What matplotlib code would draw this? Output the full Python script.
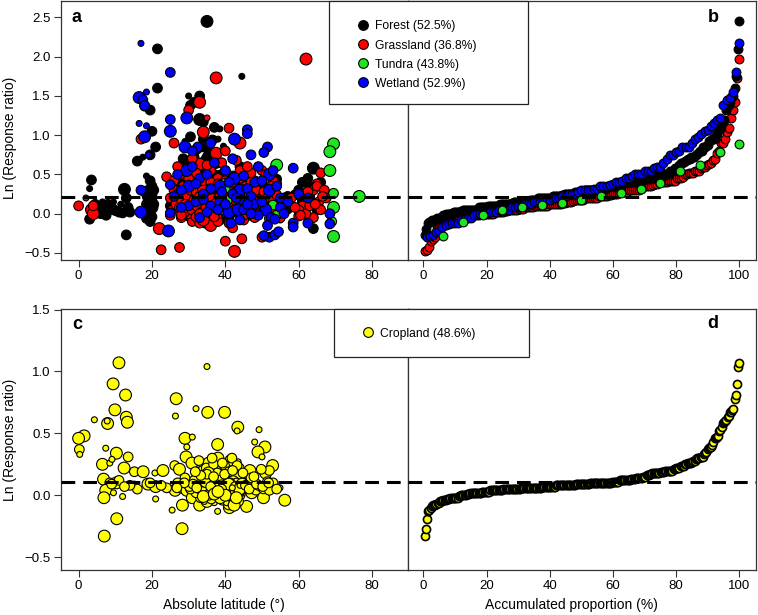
import numpy as np
import matplotlib
matplotlib.use("Agg")
import matplotlib.pyplot as plt
from matplotlib.patches import Rectangle
from matplotlib.lines import Line2D

plt.rcParams["font.family"] = ["Liberation Sans", "DejaVu Sans"]

# ---- data: (absolute latitude, ln response ratio, weight class) ----
forest_lat = [3.5, 3.0, 3.0, 4.5, 5.0, 6.0, 6.5, 7.0, 7.5, 8.0,
              8.5, 9.0, 10.0, 11.0, 12.0, 12.5, 13.0, 13.5, 13.0, 14.0,
              11.5, 9.5, 16.0, 17.5, 19.5, 18.5, 19.5, 20.0, 18.0, 19.0,
              19.5, 20.0, 19.0, 20.0, 19.5, 18.5, 20.5, 19.5, 20.0, 21.0,
              21.5, 21.5, 18.0, 35.0, 44.5, 30.0, 33.0, 31.5, 30.5, 33.0,
              34.0, 37.0, 38.0, 29.0, 35.5, 35.0, 31.0, 34.0, 29.0, 32.0,
              37.0, 39.0, 30.0, 36.0, 33.0, 41.0, 45.0, 50.0, 55.0, 62.5,
              64.0, 64.0, 33.5, 31.0, 28.0, 36.0, 32.0, 38.0, 30.0, 34.0,
              26.0, 27.0, 28.0, 29.0, 30.0, 31.0, 32.0, 33.0, 34.0, 35.0,
              36.0, 37.0, 38.0, 39.0, 40.0, 41.0, 42.0, 43.0, 44.0, 45.0,
              46.0, 47.0, 48.0, 49.0, 51.0, 52.0, 53.0, 54.0, 56.0, 58.0,
              60.0, 62.0, 63.0, 65.0, 66.0, 27.5, 29.5, 31.5, 33.5, 35.5,
              37.5, 39.5, 41.5, 43.5, 30.5, 34.5, 38.5, 42.5, 46.5, 50.5,
              26.5, 28.5, 30.5, 32.5, 34.5, 36.5, 38.5, 40.5, 42.5, 44.5,
              46.0, 48.0, 50.0, 52.0, 54.0, 27.0, 29.0, 31.0, 33.0, 35.0,
              37.0, 39.0, 41.0, 43.0, 45.0, 47.0, 49.0, 53.0, 57.0, 61.0,
              30.5, 33.5, 36.5, 38.5, 29.5, 31.5, 32.5, 34.5, 35.5, 37.5,
              39.5, 28.5, 30.0, 32.0, 34.0, 36.0, 38.0, 40.0, 42.0, 44.0,
              46.0, 48.0, 19.0, 19.5, 20.0, 18.5, 20.5, 19.0, 19.5, 20.0,
              25.0, 27.0, 29.0, 31.0, 33.0, 35.0, 37.0, 39.0, 41.0, 43.0,
              45.0, 47.0, 49.0, 51.0, 53.0, 55.0, 57.0, 59.0, 61.0, 63.0]
forest_lnrr = [0.43, 0.32, -0.07, 0.12, 0.05, 0.0, 0.15, 0.08, -0.02, 0.12,
               0.05, 0.08, 0.04, 0.02, 0.01, 0.31, 0.2, 0.08, -0.27, 0.02,
               0.12, 0.15, 0.67, 0.72, 0.75, 0.48, 0.42, 0.35, 0.28, 0.22,
               0.15, 0.08, 0.02, -0.04, -0.1, 0.12, 0.3, 1.32, 1.05, 0.85,
               1.6, 2.1, 1.37, 2.45, 1.75, 1.5, 1.5, 1.42, 1.38, 1.2,
               1.17, 1.1, 0.95, 0.92, 0.8, 0.72, 0.62, 0.55, 0.55, 0.45,
               0.4, 0.5, 0.3, 0.1, -0.1, -0.05, 0.05, 0.2, -0.08, 0.45,
               0.58, -0.19, 0.85, 0.25, 0.4, 0.88, 0.78, 0.65, 0.7, 0.95,
               0.1, 0.2, 0.05, 0.15, 0.0, 0.1, 0.2, 0.05, 0.15, 0.3,
               0.25, 0.05, 0.18, 0.1, 0.3, 0.22, 0.12, 0.35, 0.15, 0.25,
               0.1, 0.32, 0.2, 0.05, 0.15, 0.28, 0.12, 0.38, 0.2, 0.1,
               0.3, 0.15, 0.22, 0.05, 0.4, 0.35, 0.42, 0.48, 0.38, 0.45,
               0.28, 0.35, 0.42, 0.48, -0.05, -0.12, -0.08, 0.02, -0.02, 0.08,
               0.18, 0.32, 0.25, 0.42, 0.35, 0.2, 0.45, 0.28, 0.38, 0.22,
               0.48, 0.3, 0.4, 0.16, 0.44, 0.36, 0.24, 0.46, 0.3, 0.18,
               0.5, 0.26, 0.34, 0.2, 0.44, 0.28, 0.38, 0.32, 0.22, 0.4,
               0.98, 1.02, 0.94, 1.08, 0.66, 0.72, 0.8, 0.68, 0.76, 0.64,
               0.86, 0.7, 0.42, 0.52, 0.46, 0.58, 0.44, 0.55, 0.48, 0.6,
               0.5, 0.42, 0.05, 0.18, 0.25, -0.06, 0.12, 0.3, 0.0, 0.2,
               0.1, 0.22, 0.0, 0.15, 0.28, 0.05, 0.18, 0.32, 0.08, 0.25,
               0.12, 0.02, 0.3, 0.1, 0.2, 0.14, 0.06, 0.24, 0.16, 0.34]
forest_w = [2, 1, 2, 2, 2, 2, 1, 2, 2, 2,
            2, 2, 2, 2, 2, 3, 2, 2, 2, 2,
            1, 1, 2, 1, 2, 1, 2, 2, 2, 3,
            3, 3, 3, 2, 2, 2, 2, 2, 2, 2,
            2, 2, 2, 3, 1, 1, 2, 2, 2, 3,
            2, 2, 1, 1, 2, 2, 2, 2, 2, 2,
            2, 2, 2, 2, 2, 2, 2, 2, 1, 2,
            3, 2, 2, 1, 1, 1, 1, 2, 1, 2,
            2, 2, 2, 2, 2, 2, 2, 2, 2, 2,
            2, 2, 2, 2, 2, 2, 2, 2, 2, 2,
            2, 2, 2, 2, 2, 2, 2, 2, 2, 2,
            2, 2, 2, 2, 2, 2, 2, 2, 2, 2,
            2, 2, 2, 2, 2, 2, 2, 2, 2, 2,
            2, 2, 2, 2, 2, 2, 2, 2, 2, 2,
            2, 2, 2, 2, 2, 2, 2, 2, 2, 2,
            2, 2, 2, 2, 2, 2, 2, 2, 2, 2,
            2, 1, 2, 1, 2, 2, 1, 2, 2, 2,
            1, 2, 2, 2, 2, 2, 2, 2, 2, 2,
            2, 2, 2, 2, 2, 2, 2, 2, 2, 2,
            2, 2, 2, 2, 2, 2, 2, 2, 2, 2,
            2, 2, 2, 2, 2, 2, 2, 2, 2, 2]

grass_lat = [62, 37.5, 33, 35, 30, 34, 41, 17, 44, 26,
             37.5, 40, 33, 36, 29.5, 38, 28, 24, 44, 47,
             50, 48, 53, 66, 65, 31, 32,
             22.5, 27.5, 42.5, 40, 44.5, 22, 50, 31, 28, 33,
             36, 38, 42, 45, 48, 35, 30, 41, 34, 55,
             60, 64,
             0, 2, 3.5, 4, 4,
             61, 62, 63, 64, 65, 67, 65.5, 66, 60, 61.5,
             58, 60.5, 67.5, 63, 64.5, 66.5, 62.5, 59,
             25, 25.5, 26, 26.5, 27, 27.5, 28, 28.5, 29, 29.5,
             30, 30.5, 31, 31.5, 32, 32.5, 33, 33.5, 34, 34.5,
             35, 35.5, 36, 36.5, 37, 37.5, 38, 38.5, 39, 39.5,
             40, 40.5, 41, 41.5, 42, 42.5, 43, 43.5, 44, 44.5,
             45, 45.5, 46, 46.5, 47, 47.5, 48, 48.5, 49, 49.5,
             50, 50.5, 51, 51.5, 52, 52.5, 53, 53.5, 54, 55,
             26, 28, 30, 32, 34, 36, 38, 40, 42, 44,
             27, 31, 35, 39, 43, 46, 29, 33, 37, 41,
             45, 49, 25, 52, 47, 51]
grass_lnrr = [1.97, 1.73, 1.42, 1.22, 1.32, 1.04, 1.09, 0.95, 0.9, 0.9,
              0.77, 0.8, 0.63, 0.55, 0.58, 0.45, 0.5, 0.47, 0.55, 0.52,
              0.55, 0.4, 0.42, 0.52, 0.38, 0.4, 0.52,
              -0.46, -0.43, -0.48, -0.35, -0.32, -0.19, -0.3, -0.1, -0.05, -0.12,
              -0.15, -0.1, -0.18, -0.08, -0.05, -0.02, 0.0, -0.12, -0.08, -0.05,
              -0.03, -0.05,
              0.1, 0.2, 0.05, 0.0, 0.1,
              0.1, 0.0, 0.2, 0.3, 0.35, 0.3, 0.15, 0.05, 0.05, 0.25,
              0.2, -0.02, 0.2, 0.1, 0.12, 0.22, 0.28, 0.08,
              0.2, 0.05, 0.3, 0.12, 0.25, 0.08, 0.18, 0.35, 0.02, 0.22,
              0.12, 0.3, 0.06, 0.18, 0.28, 0.1, 0.22, 0.02, 0.32, 0.14,
              0.08, 0.26, 0.04, 0.18, 0.34, 0.12, 0.0, 0.22, 0.06, 0.28,
              0.15, 0.02, 0.36, 0.1, 0.24, 0.05, 0.18, 0.3, 0.08, 0.2,
              0.12, 0.35, 0.02, 0.25, 0.15, 0.06, 0.22, 0.3, 0.1, 0.18,
              0.04, 0.28, 0.14, 0.2, 0.08, 0.35, 0.16, 0.02, 0.24, 0.12,
              0.42, -0.02, 0.45, -0.04, 0.42, 0.4, 0.38, 0.42, 0.4, 0.45,
              0.6, 0.7, 0.62, 0.65, 0.68, 0.6, 0.12, 0.0, -0.04, 0.0,
              -0.02, 0.0, -0.02, -0.06, 0.4, 0.5]
grass_w = [3, 3, 3, 1, 2, 3, 2, 2, 3, 2,
           3, 2, 3, 2, 2, 2, 2, 2, 2, 2,
           2, 2, 2, 2, 2, 2, 2,
           2, 2, 3, 2, 2, 3, 2, 2, 2, 2,
           3, 2, 2, 2, 2, 2, 2, 2, 3, 2,
           2, 2,
           2, 1, 3, 3, 2,
           2, 2, 2, 2, 2, 2, 2, 2, 2, 2,
           2, 2, 2, 2, 2, 2, 2, 2,
           2, 2, 2, 2, 2, 2, 2, 2, 2, 2,
           2, 2, 3, 2, 2, 3, 2, 2, 3, 2,
           3, 2, 2, 3, 2, 3, 2, 2, 3, 2,
           3, 2, 2, 3, 2, 2, 3, 2, 2, 3,
           2, 2, 2, 2, 2, 2, 2, 2, 2, 2,
           2, 2, 2, 2, 2, 2, 2, 2, 2, 2,
           2, 2, 2, 2, 2, 2, 2, 2, 2, 2,
           2, 2, 2, 2, 2, 2, 2, 2, 2, 2,
           2, 2, 2, 2, 2, 2]

tundra_lat = [69.5, 68.5, 54, 68.5, 40, 40, 69.5, 76.5, 40.5, 44,
              53, 69.5, 39.5, 54, 69, 69.5]
tundra_lnrr = [0.89, 0.79, 0.62, 0.55, 0.39, 0.32, 0.26, 0.22, 0.17, 0.13,
               0.11, 0.08, 0.05, -0.02, -0.10, -0.29]
tundra_w = [3, 3, 3, 3, 2, 2, 2, 3, 2, 2,
            2, 3, 2, 2, 2, 3]

wet_lat = [17, 25, 16.5, 17.5, 18.5, 18, 29.5, 25, 16.5, 18.5,
           25, 46, 46, 18, 42.5, 29, 32.5, 51.5, 50.5, 19,
           47, 42, 31, 36,
           58.5, 52, 29.5, 30, 38.5, 42.5, 44, 46, 48, 52,
           55, 17, 25, 42, 38.5, 62.5, 33, 35, 40, 45,
           49, 53, 37, 31, 27, 50, 47, 44, 41, 39,
           36, 34, 32, 28, 26, 54, 57, 60, 48, 43,
           17, 25, 24.5, 41, 43.5, 45, 51, 52.5, 53.5, 51.5,
           52, 53.5, 54.5, 50.5, 58.5, 58.5, 62.5, 68.5, 68.5, 41.5,
           33, 36, 38, 30, 35, 46, 49, 55, 40, 44,
           32, 28, 47, 50, 56, 34]
wet_lnrr = [2.17, 1.8, 1.48, 1.45, 1.55, 1.38, 1.22, 1.2, 1.15, 1.12,
            1.05, 1.07, 1.02, 0.98, 0.95, 0.85, 0.85, 0.85, 0.78, 0.75,
            0.75, 0.7, 0.8, 0.9,
            0.58, 0.5, 0.55, 0.35, 0.35, 0.45, 0.3, 0.32, 0.4, 0.3,
            0.2, 0.3, 0.37, 0.25, 0.15, 0.2, 0.45, 0.5, 0.55, 0.48,
            0.6, 0.55, 0.65, 0.6, 0.5, 0.42, 0.22, 0.18, 0.4, 0.28,
            0.32, 0.25, 0.38, 0.3, 0.22, 0.35, 0.15, 0.25, 0.12, 0.2,
            0.02, 0.01, -0.22, 0.02, 0.05, 0.05, 0.05, -0.05, -0.07, -0.15,
            -0.3, -0.27, -0.23, -0.28, -0.12, -0.17, -0.12, 0.0, -0.13, -0.12,
            -0.05, 0.1, 0.05, 0.1, 0.02, 0.12, -0.02, 0.08, 0.12, -0.08,
            0.15, 0.08, 0.0, 0.15, 0.0, 0.18]
wet_w = [1, 2, 3, 2, 1, 2, 3, 2, 1, 1,
         3, 2, 2, 3, 3, 3, 2, 2, 2, 1,
         2, 2, 2, 2,
         2, 3, 3, 3, 3, 3, 3, 2, 2, 3,
         2, 2, 2, 2, 2, 2, 2, 2, 2, 2,
         2, 2, 2, 2, 2, 2, 2, 2, 2, 2,
         2, 2, 2, 2, 2, 2, 2, 2, 2, 2,
         3, 2, 3, 3, 3, 2, 3, 2, 2, 2,
         2, 2, 2, 2, 2, 2, 2, 2, 2, 2,
         2, 2, 2, 2, 2, 2, 2, 2, 2, 2,
         2, 2, 2, 2, 2, 2]

crop_lat = [11, 35, 9.4, 12.8, 26.6, 9.9, 32, 35.2, 39.8, 26.4,
            13, 13.3, 4.3, 7.9, 7.8, 43.4, 43.2, 49.2, 1.5, 0,
            29, 31, 48,
            37.9, 50.8, 48.9, 0.2, 0.3, 10.3, 13.5, 29.5, 29.3, 38,
            41.5, 43.5, 50, 6.5, 8.5, 12.4, 26.2, 27.5, 30.9, 32.5,
            35.5, 37, 39, 52.9, 51, 52, 15.2, 17.6, 20.8, 23,
            46.7, 7.4, 9.1,
            6.8, 10.3, 18.9, 21, 15.2, 8.5, 7.4, 9.5, 6.9, 12,
            21, 26.3, 28.5, 29.5, 31, 33, 33.5, 28.3, 25.5, 35,
            37, 37.9, 36, 38, 40, 41, 41.1, 42, 43, 43,
            41, 45.8, 47.2, 48.4, 50.4, 50.5, 51.5, 53, 54.9, 56.2,
            28.2, 10.4, 7,
            33, 33.5, 34, 34.5, 35, 35.5, 36, 36.5, 37, 37.5,
            38, 38.5, 39, 39.5, 40, 40.5, 41, 41.5, 42, 42.5,
            43, 43.5, 44, 33.2, 34.2, 35.2, 36.2, 37.2, 38.2, 39.2,
            40.2, 41.2, 42.2, 43.2, 44.2, 33.8, 34.8, 35.8, 36.8, 37.8,
            38.8, 39.8, 40.8, 41.8, 42.8, 43.8, 34.3, 36.3, 38.3, 40.3,
            42.3, 44.3, 35.6, 37.6, 39.6, 41.6, 43.6, 33.4, 36.6, 39.4,
            42.6, 44.4, 34.6, 38.6, 41.4, 43.4, 35.4, 40.6, 37.4, 42.4,
            30, 31.5, 32, 29, 30.5, 45, 46, 47, 49, 52,
            27, 24, 16, 11, 14, 32.8, 36.4, 39.2, 41.8, 43.2,
            33.1, 33.7, 34.1, 34.9, 35.3, 35.9, 36.1, 36.7, 37.1, 37.7,
            38.1, 38.7, 39.1, 39.7, 40.1, 40.7, 41.1, 41.7, 42.1, 42.7,
            43.1, 43.7, 44.1, 33.6, 34.4, 35.1, 35.7, 36.9, 37.3, 38.4,
            39.3, 40.4, 41.3, 42.9, 43.3, 44.6, 33.9, 34.7, 36.5, 37.9,
            39.9, 40.9, 42.7, 43.9, 35.2, 38.9, 41.9, 44.0, 36.0, 39.0,
            30.2, 31.2, 32.2, 28.8, 45.5, 46.5, 48.5, 50.2, 51.8, 54.0,
            26.8, 22.5, 19.5, 12.5, 9.0, 34.0, 37.0, 40.0, 43.0, 38.0,
            35.0, 41.0, 36.8, 39.8, 42.0, 33.3, 44.8, 31.8, 47.8, 49.8]
crop_lnrr = [1.07, 1.04, 0.9, 0.81, 0.78, 0.69, 0.7, 0.67, 0.67, 0.64,
             0.63, 0.59, 0.61, 0.58, 0.6, 0.55, 0.52, 0.53, 0.48, 0.46,
             0.46, 0.47, 0.43,
             0.41, 0.39, 0.35, 0.37, 0.33, 0.34, 0.31, 0.39, 0.31, 0.3,
             0.28, 0.27, 0.31, 0.25, 0.26, 0.22, 0.24, 0.21, 0.26, 0.18,
             0.26, 0.22, 0.2, 0.24, 0.18, 0.2, 0.19, 0.19, 0.18, 0.2,
             0.2, 0.38, 0.29,
             0.13, 0.1, 0.09, 0.07, 0.09, 0.1, 0.04, 0.02, -0.02, -0.01,
             -0.03, 0.04, 0.06, 0.04, -0.02, -0.08, 0.05, -0.08, -0.12, -0.05,
             -0.06, -0.13, 0.01, 0.0, 0.05, -0.03, -0.1, 0.11, 0.02, -0.04,
             -0.07, -0.09, 0.02, 0.05, -0.02, 0.06, 0.11, 0.1, 0.06, -0.04,
             -0.27, -0.19, -0.33,
             0.1, 0.14, 0.02, 0.08, 0.12, 0.04, 0.16, 0.06, 0.1, 0.0,
             0.08, 0.14, 0.03, 0.1, 0.18, 0.06, 0.12, 0.02, 0.08, 0.15,
             0.05, 0.1, 0.0, -0.02, 0.06, 0.1, -0.03, 0.13, 0.04, -0.04,
             0.09, 0.16, -0.02, 0.07, 0.12, 0.2, 0.22, 0.14, 0.25, 0.18,
             0.07, 0.24, 0.02, 0.2, 0.1, 0.22, -0.05, 0.05, 0.12, -0.06,
             0.04, 0.08, 0.0, 0.08, 0.13, 0.05, -0.05, 0.06, 0.11, 0.01,
             0.13, 0.03, 0.12, -0.02, 0.08, 0.14, 0.18, 0.12, 0.04, -0.08,
             0.08, 0.12, 0.02, 0.14, 0.05, 0.06, 0.1, 0.14, 0.08, 0.04,
             0.1, 0.06, 0.05, 0.12, 0.08, 0.28, 0.3, 0.26, 0.3, 0.24,
             0.06, 0.09, 0.11, 0.03, 0.07, 0.12, 0.08, 0.02, 0.05, 0.1,
             0.06, 0.09, 0.12, 0.04, 0.08, 0.1, 0.03, 0.07, 0.11, 0.06,
             0.09, 0.02, 0.05, 0.08, 0.1, 0.06, 0.03, 0.07, 0.09, 0.05,
             0.06, 0.08, 0.1, 0.04, 0.07, 0.09, 0.03, 0.11, 0.08, 0.06,
             0.04, 0.09, 0.07, 0.05, 0.02, 0.1, 0.06, 0.08, 0.07, 0.05,
             0.07, 0.09, 0.06, 0.1, 0.08, 0.05, 0.09, 0.07, 0.1, 0.05,
             0.06, 0.08, 0.1, 0.07, 0.09, -0.01, 0.01, 0.0, -0.02, 0.03,
             0.17, 0.19, 0.15, 0.17, 0.2, 0.16, 0.18, 0.19, 0.15, 0.21]
crop_w = [3, 1, 3, 3, 3, 3, 1, 3, 3, 1,
          3, 3, 1, 3, 1, 3, 1, 1, 3, 3,
          3, 1, 1,
          3, 3, 3, 2, 1, 3, 2, 1, 3, 3,
          3, 1, 1, 3, 1, 3, 2, 3, 3, 3,
          3, 3, 3, 3, 3, 2, 2, 3, 1, 3,
          3, 1, 1,
          3, 3, 3, 3, 1, 2, 3, 1, 3, 1,
          1, 3, 3, 3, 3, 3, 3, 3, 1, 3,
          1, 1, 3, 3, 3, 3, 3, 3, 3, 3,
          3, 3, 3, 3, 3, 3, 2, 2, 1, 3,
          3, 3, 3,
          2, 3, 2, 3, 2, 3, 2, 3, 2, 3,
          2, 3, 2, 3, 2, 3, 2, 3, 2, 3,
          2, 3, 2, 2, 2, 2, 2, 2, 2, 2,
          2, 2, 2, 2, 2, 2, 2, 2, 2, 2,
          2, 2, 2, 2, 2, 2, 1, 1, 1, 1,
          1, 1, 2, 2, 2, 2, 2, 2, 2, 2,
          2, 2, 3, 3, 3, 3, 3, 3, 3, 3,
          2, 2, 2, 2, 2, 2, 2, 2, 2, 2,
          2, 2, 2, 2, 2, 2, 2, 2, 2, 2,
          3, 2, 3, 2, 3, 2, 3, 2, 3, 2,
          3, 2, 3, 2, 3, 2, 3, 2, 3, 2,
          3, 2, 3, 2, 2, 3, 2, 3, 2, 3,
          2, 3, 2, 3, 2, 3, 2, 3, 2, 3,
          2, 3, 2, 3, 1, 1, 1, 1, 2, 2,
          2, 2, 2, 2, 2, 2, 2, 2, 2, 2,
          2, 2, 2, 2, 2, 3, 3, 3, 3, 3,
          2, 2, 2, 2, 2, 2, 2, 2, 2, 2]

natural_labels = ["Forest (52.5%)", "Grassland (36.8%)", "Tundra (43.8%)", "Wetland (52.9%)"]
crop_label = "Cropland (48.6%)"
natural_mean = 0.214
crop_mean = 0.11

COLORS = {"forest": "#000000", "grass": "#ff0000", "tundra": "#1ee61e",
          "wet": "#0000ff", "crop": "#ffff00"}
SIZE_BY_WEIGHT = {1: 18, 2: 48, 3: 72}

W, H = 758, 615


def px_rect(x0, y0, x1, y1):
    # pixel box (top-left origin) -> figure fraction rect
    return [x0 / W, 1 - y1 / H, (x1 - x0) / W, (y1 - y0) / H]


def style_axes(ax, xlim, ylim, xticks, yticks=None):
    ax.set_xlim(*xlim)
    ax.set_ylim(*ylim)
    ax.set_xticks(xticks)
    if yticks is None:
        ax.set_yticks([])
    else:
        ax.set_yticks(yticks)
    ax.tick_params(direction="out", length=5, width=0.8, color="#333333",
                   labelsize=9.5, pad=2.5)
    for sp in ax.spines.values():
        sp.set_color("#333333")
        sp.set_linewidth(0.9)


def scatter_lat(ax, lat, val, w, color):
    sizes = [SIZE_BY_WEIGHT[k] for k in w]
    ax.scatter(lat, val, s=sizes, c=color, edgecolors="black", linewidths=0.8, zorder=3)


def scatter_sorted(ax, val, color, size, lw=0.8):
    v = np.sort(np.array(val))
    prop = np.arange(1, len(v) + 1) / len(v) * 100
    ax.scatter(prop, v, s=size, c=color, edgecolors="black", linewidths=lw, zorder=3)


def dashed(ax, y):
    ax.axhline(y, color="black", lw=2.2, linestyle=(0, (4.5, 2.6)), zorder=4)


def panel_letter(ax, x, y, s):
    ax.text(x, y, s, transform=ax.transAxes, fontsize=13, fontweight="bold",
            ha="center", va="center", zorder=6)


def legend_handle(color):
    return Line2D([], [], marker="o", ls="", markersize=7, markerfacecolor=color,
                  markeredgecolor="black", markeredgewidth=0.8)


def main():
    fig = plt.figure(figsize=(W / 100, H / 100), dpi=100)

    ax_a = fig.add_axes(px_rect(61, 1, 408, 260))
    ax_b = fig.add_axes(px_rect(408, 1, 756, 260))
    ax_c = fig.add_axes(px_rect(61, 309, 408, 570))
    ax_d = fig.add_axes(px_rect(408, 309, 756, 570))

    # a: latitude scatter, natural ecosystems
    scatter_lat(ax_a, forest_lat, forest_lnrr, forest_w, COLORS["forest"])
    scatter_lat(ax_a, grass_lat, grass_lnrr, grass_w, COLORS["grass"])
    scatter_lat(ax_a, tundra_lat, tundra_lnrr, tundra_w, COLORS["tundra"])
    scatter_lat(ax_a, wet_lat, wet_lnrr, wet_w, COLORS["wet"])
    dashed(ax_a, natural_mean)
    style_axes(ax_a, (-4.8, 89.8), (-0.59, 2.71), [0, 20, 40, 60, 80],
               [-0.5, 0.0, 0.5, 1.0, 1.5, 2.0, 2.5])
    ax_a.set_ylabel("Ln (Response ratio)", fontsize=10)
    ax_a.yaxis.set_label_coords(-0.128, 0.47)
    panel_letter(ax_a, 0.046, 0.935, "a")

    # b: accumulated proportion
    scatter_sorted(ax_b, grass_lnrr, COLORS["grass"], 40)
    scatter_sorted(ax_b, forest_lnrr, COLORS["forest"], 40)
    scatter_sorted(ax_b, wet_lnrr, COLORS["wet"], 40)
    scatter_sorted(ax_b, tundra_lnrr, COLORS["tundra"], 40)
    dashed(ax_b, natural_mean)
    style_axes(ax_b, (-4.9, 105.3), (-0.59, 2.71), [0, 20, 40, 60, 80, 100])
    panel_letter(ax_b, 0.876, 0.935, "b")

    # c: cropland latitude scatter
    scatter_lat(ax_c, crop_lat, crop_lnrr, crop_w, COLORS["crop"])
    dashed(ax_c, crop_mean)
    style_axes(ax_c, (-4.8, 89.8), (-0.604, 1.505), [0, 20, 40, 60, 80],
               [-0.5, 0.0, 0.5, 1.0, 1.5])
    ax_c.set_ylabel("Ln (Response ratio)", fontsize=10)
    ax_c.yaxis.set_label_coords(-0.128, 0.5)
    ax_c.set_xlabel("Absolute latitude (°)", fontsize=10)
    ax_c.xaxis.set_label_coords(0.47, -0.108)
    panel_letter(ax_c, 0.046, 0.94, "c")

    # d: cropland accumulated proportion
    scatter_sorted(ax_d, crop_lnrr, COLORS["crop"], 34, lw=1.2)
    dashed(ax_d, crop_mean)
    style_axes(ax_d, (-4.9, 105.3), (-0.604, 1.505), [0, 20, 40, 60, 80, 100])
    ax_d.set_xlabel("Accumulated proportion (%)", fontsize=10)
    ax_d.xaxis.set_label_coords(0.47, -0.108)
    panel_letter(ax_d, 0.876, 0.945, "d")

    # legend boxes
    box = px_rect(329, 1, 528, 104)
    fig.add_artist(Rectangle((box[0], box[1]), box[2], box[3], transform=fig.transFigure,
                             facecolor="white", edgecolor="#222222", lw=0.9, zorder=5))
    handles = [legend_handle(COLORS[k]) for k in ["forest", "grass", "tundra", "wet"]]
    leg = fig.legend(handles, natural_labels, loc="upper left",
                     bbox_to_anchor=(357 / W, 1 - 20.5 / H), frameon=False, fontsize=8.7,
                     handlelength=1.0, handletextpad=0.45, labelspacing=0.58,
                     borderpad=0, borderaxespad=0)
    leg.set_zorder(6)

    box = px_rect(334, 309, 529, 357)
    fig.add_artist(Rectangle((box[0], box[1]), box[2], box[3], transform=fig.transFigure,
                             facecolor="white", edgecolor="#222222", lw=0.9, zorder=5))
    leg2 = fig.legend([legend_handle(COLORS["crop"])], [crop_label], loc="upper left",
                      bbox_to_anchor=(362 / W, 1 - 327.5 / H), frameon=False, fontsize=8.7,
                      handlelength=1.0, handletextpad=0.45, borderpad=0, borderaxespad=0)
    leg2.set_zorder(6)

    fig.savefig("out.png", dpi=100)


if __name__ == "__main__":
    main()
